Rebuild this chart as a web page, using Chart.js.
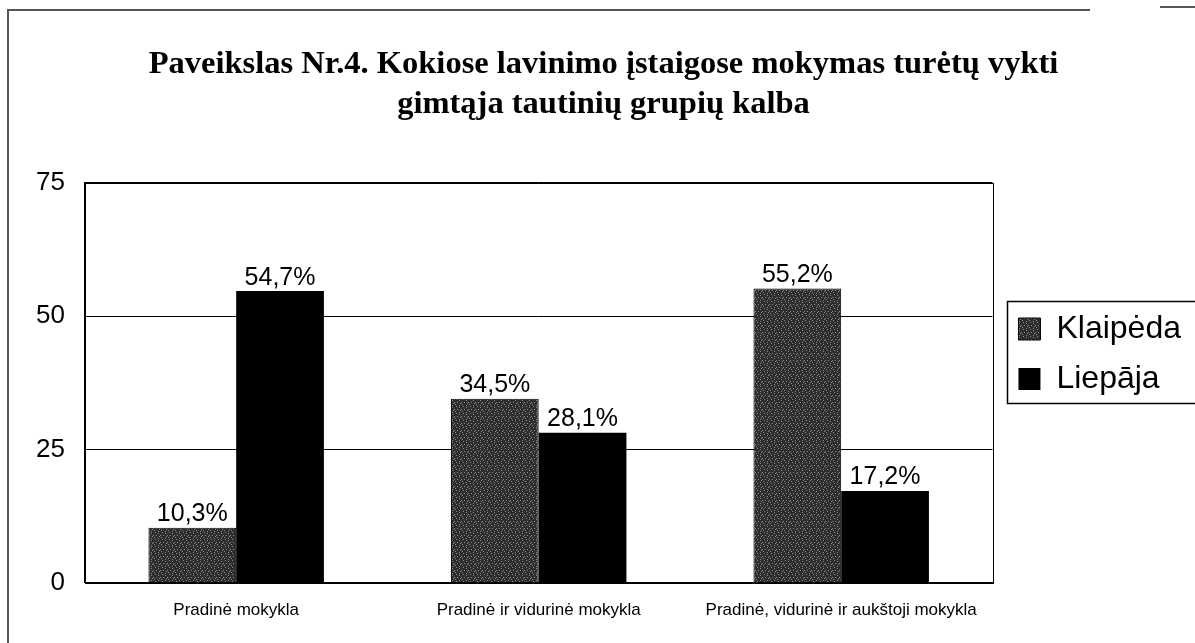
<!DOCTYPE html>
<html>
<head>
<meta charset="utf-8">
<script src="https://cdn.jsdelivr.net/npm/chart.js@4/dist/chart.umd.min.js"></script>
<style>
  html, body { margin: 0; padding: 0; background: #fff; }
  #wrap { width: 1195px; height: 643px; }
</style>
</head>
<body>
<div id="wrap"><canvas id="schoolChart" width="1195" height="643"></canvas></div>
<script>
const categories = ['Pradinė mokykla', 'Pradinė ir vidurinė mokykla', 'Pradinė, vidurinė ir aukštoji mokykla'];
const klaipeda = [10.3, 34.5, 55.2];
const liepaja = [54.7, 28.1, 17.2];
const seriesNames = ['Klaipėda', 'Liepāja'];
const titleLines = ['Paveikslas Nr.4. Kokiose lavinimo įstaigose mokymas turėtų vykti', 'gimtąja tautinių grupių kalba'];
const yTicks = [0, 25, 50, 75];

// speckled dark grey fill, like the scanned print
function speckle() {
    const c = document.createElement('canvas');
    c.width = 7; c.height = 7;
    const g = c.getContext('2d');
    g.fillStyle = '#2e2e2e';
    g.fillRect(0, 0, 7, 7);
    g.fillStyle = '#8a8a8a';
    [[1, 0], [4, 1], [2, 3], [6, 3], [0, 5], [4, 6], [5, 4]].forEach(p => g.fillRect(p[0], p[1], 1, 1));
    return g.createPattern(c, 'repeat');
}

const ctx = document.getElementById('schoolChart').getContext('2d');
const greyFill = speckle();

const framePlugin = {
    id: 'frame',
    beforeDraw(chart) {
        const c = chart.ctx;
        c.save();
        c.fillStyle = '#fff';
        c.fillRect(0, 0, chart.width, chart.height);
        c.strokeStyle = '#555';
        c.lineWidth = 2;
        c.beginPath();
        c.moveTo(8, 643);
        c.lineTo(8, 10);
        c.lineTo(1090, 10);
        c.stroke();
        c.beginPath();
        c.moveTo(1160, 7);
        c.lineTo(1195, 7);
        c.stroke();
        c.restore();
    },
    afterDraw(chart) {
        const a = chart.chartArea;
        const c = chart.ctx;
        c.save();
        c.strokeStyle = '#000';
        c.lineWidth = 1;
        c.strokeRect(Math.round(a.left) + 0.5, Math.round(a.top) + 0.5, Math.round(a.right - a.left), Math.round(a.bottom - a.top));
        // border round the legend entries
        const boxes = chart.legend.legendHitBoxes;
        if (boxes && boxes.length) {
            const first = boxes[0], last = boxes[boxes.length - 1];
            const x0 = Math.round(Math.min(...boxes.map(b => b.left))) - 11;
            const y0 = Math.round(first.top) - 12;
            const y1 = Math.round(last.top + last.height) + 8;
            c.lineWidth = 1.5;
            c.strokeRect(x0 + 0.5, y0 + 0.5, chart.width - x0 + 5, y1 - y0);
        }
        c.restore();
    }
};

const valueLabels = {
    id: 'valueLabels',
    afterDatasetsDraw(chart) {
        const c = chart.ctx;
        c.save();
        c.font = '25px Arial, "Liberation Sans"';
        c.fillStyle = '#000';
        c.textAlign = 'center';
        c.textBaseline = 'bottom';
        chart.data.datasets.forEach((ds, i) => {
            chart.getDatasetMeta(i).data.forEach((bar, j) => {
                c.fillText(ds.data[j].toFixed(1).replace('.', ',') + '%', bar.x, bar.y - 1);
            });
        });
        c.restore();
    }
};

new Chart(ctx, {
    type: 'bar',
    data: {
        labels: categories,
        datasets: [{
            label: seriesNames[0],
            data: klaipeda,
            backgroundColor: greyFill,
            borderColor: '#000',
            borderWidth: 1
        }, {
            label: seriesNames[1],
            data: liepaja,
            backgroundColor: '#000',
            borderColor: '#000',
            borderWidth: 0
        }]
    },
    options: {
        responsive: false,
        animation: false,
        layout: { padding: { left: 16, right: 4, top: 0, bottom: 12 } },
        datasets: { bar: { categoryPercentage: 0.58, barPercentage: 1.0 } },
        plugins: {
            title: {
                display: true,
                text: titleLines,
                color: '#000',
                font: { family: '"Liberation Serif", "Times New Roman", serif', size: 32.5, weight: 'bold', lineHeight: 1.23 },
                padding: { top: 45, bottom: 58 }
            },
            legend: {
                position: 'right',
                // blank legend title only pushes the entries down
                title: { display: true, text: ' ', font: { size: 12, lineHeight: 1 }, padding: { top: 0, bottom: 65 } },
                labels: {
                    color: '#000',
                    font: { family: 'Arial, "Liberation Sans"', size: 32 },
                    boxWidth: 22,
                    boxHeight: 22,
                    padding: 18
                }
            },
            tooltip: { enabled: false }
        },
        scales: {
            x: {
                grid: { display: false },
                border: { color: '#000' },
                ticks: {
                    color: '#000',
                    font: { family: 'Arial, "Liberation Sans"', size: 17 },
                    padding: 10,
                    maxRotation: 0
                }
            },
            y: {
                min: 0,
                max: 75,
                afterBuildTicks(axis) { axis.ticks = yTicks.map(v => ({ value: v })); },
                grid: { color: '#000', drawTicks: false },
                border: { color: '#000' },
                ticks: {
                    color: '#000',
                    font: { family: 'Arial, "Liberation Sans"', size: 26 },
                    padding: 20
                }
            },
            gap: {
                // empty right axis: spacing between plot and legend
                position: 'right',
                display: true,
                grid: { display: false },
                border: { display: false },
                ticks: { display: false },
                afterFit(s) { s.width = 8; }
            }
        }
    },
    plugins: [framePlugin, valueLabels]
});
</script>
</body>
</html>
